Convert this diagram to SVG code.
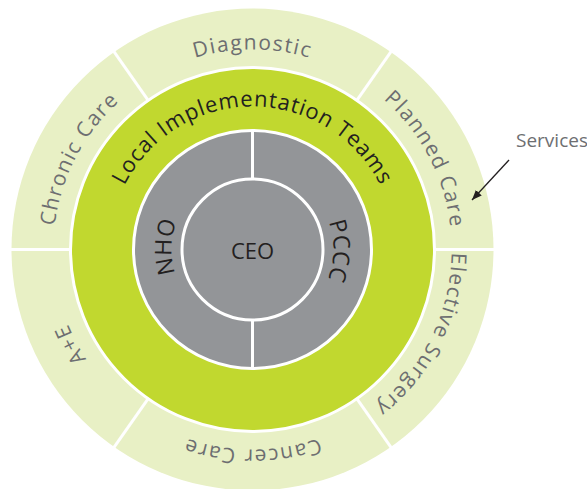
<svg xmlns="http://www.w3.org/2000/svg" width="587" height="489" viewBox="0 0 587 489">
<style>
.outer{fill:#e8f0c5}
.lime{fill:#c1d82f;stroke:#fff;stroke-width:3}
.gray{fill:#939598;stroke:#fff;stroke-width:3}
.div{stroke:#fff;stroke-width:3;fill:none}
.otxt{font-family:"Open Sans","DejaVu Sans",sans-serif;font-size:21px;fill:#6d6e71;letter-spacing:1.5px}
.ltxt{font-family:"Open Sans","DejaVu Sans",sans-serif;font-size:22px;fill:#231f20;letter-spacing:0.8px}
.itxt{font-family:"Open Sans","DejaVu Sans",sans-serif;font-size:23px;fill:#231f20;letter-spacing:0.5px}
.ctxt{font-family:"Open Sans","DejaVu Sans",sans-serif;font-size:22px;fill:#231f20}
.stxt{font-family:"Open Sans","DejaVu Sans",sans-serif;font-size:19px;fill:#6d6e71}
</style>
<defs>
<path id="pDiag" d="M52.5,249.5 A200,200 0 0 1 452.5,249.5"/>
<path id="pPlan" d="M160.15,72.1 A200,200 0 0 1 344.85,426.9"/>
<path id="pElec" d="M344.85,72.1 A200,200 0 0 1 160.15,426.9"/>
<path id="pCanc" d="M452.5,249.5 A200,200 0 0 1 52.5,249.5"/>
<path id="pAE" d="M344.85,426.9 A200,200 0 0 1 160.15,72.1"/>
<path id="pChron" d="M160.15,426.9 A200,200 0 0 1 344.85,72.1"/>
<path id="pLocal" d="M109.5,249.5 A143,143 0 0 1 395.5,249.5"/>
<path id="pNHO" d="M252.5,330.5 A81,81 0 0 1 252.5,168.5"/>
<path id="pPCCC" d="M252.5,168.5 A81,81 0 0 1 252.5,330.5"/>
<marker id="arr" viewBox="0 0 10 8" refX="10" refY="4" markerWidth="10" markerHeight="8" markerUnits="userSpaceOnUse" orient="auto">
<path d="M0,0 L10,4 L0,8 Z" fill="#231f20"/>
</marker>
</defs>

<g id="services-ring">
<circle class="outer" cx="252.5" cy="249.5" r="241"/>
<g class="div">
<line x1="148.7" y1="101.2" x2="113.1" y2="50.4"/>
<line x1="356.3" y1="101.2" x2="391.9" y2="50.4"/>
<line x1="433.5" y1="249.5" x2="496" y2="249.5"/>
<line x1="356.3" y1="397.8" x2="391.9" y2="448.6"/>
<line x1="148.7" y1="397.8" x2="113.1" y2="448.6"/>
<line x1="71.5" y1="249.5" x2="9" y2="249.5"/>
</g>
</g>
<g id="diagnostic"><text class="otxt"><textPath href="#pDiag" startOffset="50%" text-anchor="middle">Diagnostic</textPath></text></g>
<g id="planned-care"><text class="otxt"><textPath href="#pPlan" startOffset="50%" text-anchor="middle">Planned Care</textPath></text></g>
<g id="elective-surgery"><text class="otxt"><textPath href="#pElec" startOffset="49.5%" text-anchor="middle">Elective Surgery</textPath></text></g>
<g id="cancer-care"><text class="otxt"><textPath href="#pCanc" startOffset="50%" text-anchor="middle">Cancer Care</textPath></text></g>
<g id="a-e"><text class="otxt"><textPath href="#pAE" startOffset="50%" text-anchor="middle">A+E</textPath></text></g>
<g id="chronic-care"><text class="otxt"><textPath href="#pChron" startOffset="50%" text-anchor="middle">Chronic Care</textPath></text></g>

<g id="local-implementation-teams">
<circle class="lime" cx="252.5" cy="249.5" r="182"/>
<text class="ltxt"><textPath href="#pLocal" startOffset="50%" text-anchor="middle">Local Implementation Teams</textPath></text>
</g>

<g id="inner-ring">
<circle class="gray" cx="252.5" cy="249.5" r="119"/>
<line class="div" x1="252.5" y1="130" x2="252.5" y2="180"/>
<line class="div" x1="252.5" y1="319" x2="252.5" y2="369"/>
</g>
<g id="nho"><text class="itxt"><textPath href="#pNHO" startOffset="51%" text-anchor="middle">NHO</textPath></text></g>
<g id="pccc"><text class="itxt"><textPath href="#pPCCC" startOffset="50.5%" text-anchor="middle">PCCC</textPath></text></g>

<g id="ceo">
<circle class="gray" cx="252.5" cy="249.5" r="70.5"/>
<text class="ctxt" x="252.5" y="259" text-anchor="middle">CEO</text>
</g>

<g id="services-label"><text class="stxt" x="516" y="147">Services</text></g>

<g id="connectors">
<line x1="509" y1="160" x2="472" y2="200" stroke="#231f20" stroke-width="1.3" marker-end="url(#arr)"/>
</g>
</svg>
